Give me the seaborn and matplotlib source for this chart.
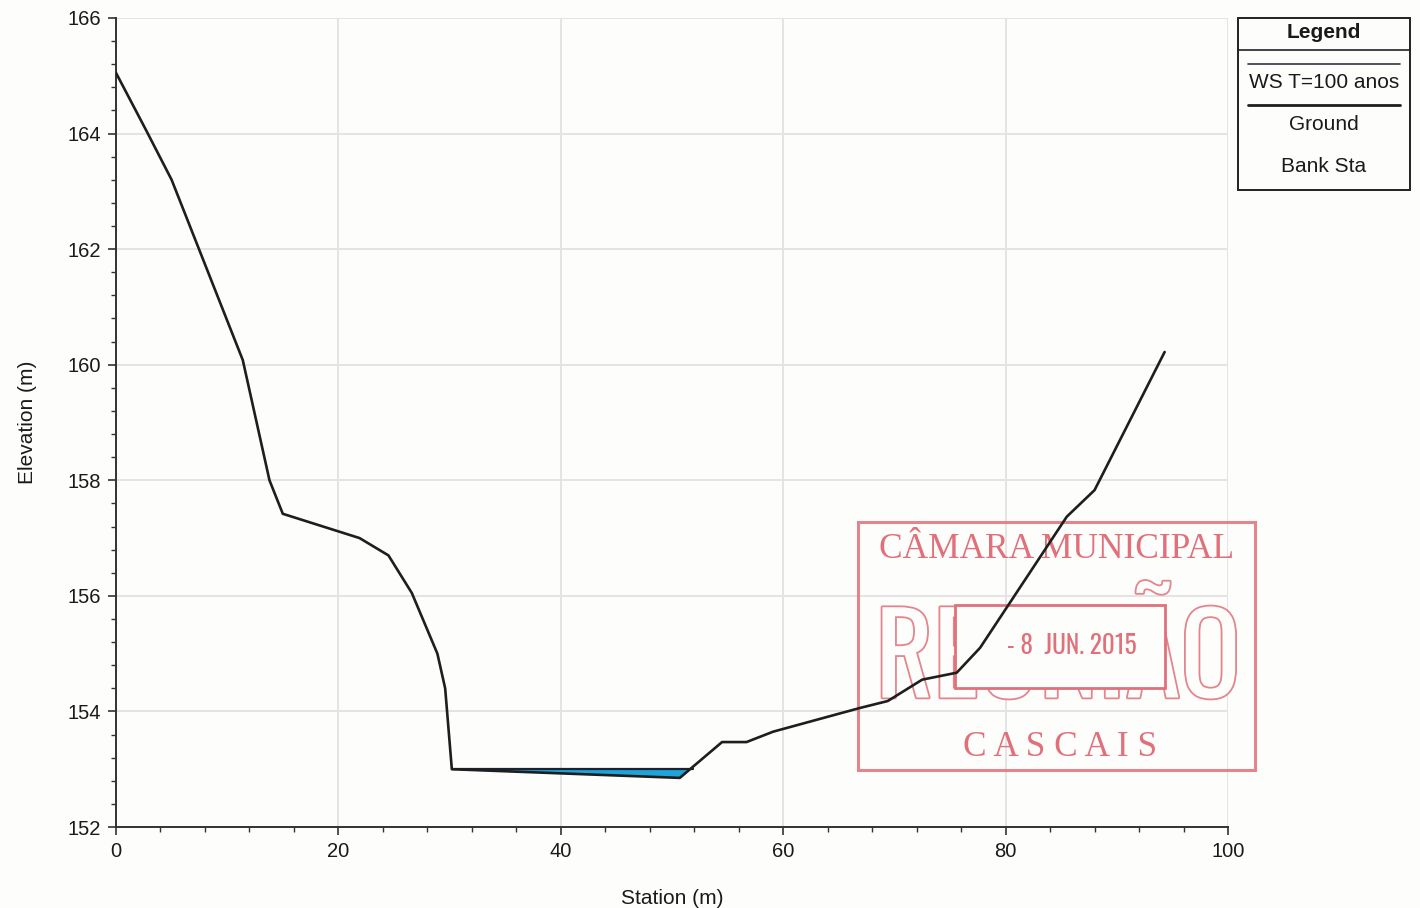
import numpy as np
import pandas as pd
import matplotlib.pyplot as plt
import matplotlib.patches as mpatches
import matplotlib.patheffects as pe
from matplotlib.lines import Line2D
from matplotlib.ticker import MultipleLocator
import seaborn as sns

# cross section data
ground_sta = [0.0, 2.7, 5.0, 11.4, 13.8, 15.0, 21.9, 24.5, 26.6, 28.9, 29.6, 30.2,
              50.7, 54.5, 56.7, 59.1, 66.9, 69.4, 72.5, 75.6, 77.7, 85.5, 88.0, 94.3]
ground_elev = [165.05, 164.06, 163.2, 160.08, 158.0, 157.42, 157.0, 156.7, 156.05, 155.0, 154.4, 153.0,
               152.85, 153.47, 153.47, 153.65, 154.06, 154.18, 154.55, 154.67, 155.1, 157.37, 157.83, 160.22]
ws_sta = [30.2, 51.9]
ws_elev = [153.0, 153.0]
legend_labels = ["WS T=100 anos", "Ground", "Bank Sta"]
x_ticks = [0, 20, 40, 60, 80, 100]
y_ticks = [152, 154, 156, 158, 160, 162, 164, 166]

sns.set_style("white")
plt.rcParams['font.family'] = ['Liberation Sans', 'DejaVu Sans']
narrow = ['Oswald', 'Roboto Condensed', 'Archivo Narrow', 'PT Sans Narrow', 'Liberation Sans']
bg = '#fdfdfb'

fig = plt.figure(figsize=(14.2, 9.08), dpi=100)
fig.patch.set_facecolor(bg)
ax = fig.add_axes([0.0817, 0.0892, 0.7831, 0.891])
ax.set_facecolor(bg)

df_ground = pd.DataFrame({"Station": ground_sta, "Elevation": ground_elev})
df_ws = pd.DataFrame({"Station": ws_sta, "Elevation": ws_elev})

# water between WS and ground
fx = [ws_sta[0]] + [s for s in ground_sta if ws_sta[0] < s < ws_sta[1]] + [ws_sta[1]]
fg = np.interp(fx, ground_sta, ground_elev)
ax.fill_between(fx, fg, ws_elev[0], color='#1ea4d8', zorder=2, lw=0)
sns.lineplot(data=df_ws, x="Station", y="Elevation", ax=ax, color='#1b2233', lw=1.6, zorder=3)
sns.lineplot(data=df_ground, x="Station", y="Elevation", ax=ax, color='#1e1e1e', lw=1.9, zorder=4,
             sort=False)

ax.set_xlim(0, 100)
ax.set_ylim(152, 166)
ax.set_xticks(x_ticks)
ax.set_yticks(y_ticks)
ax.xaxis.set_minor_locator(MultipleLocator(4))
ax.yaxis.set_minor_locator(MultipleLocator(0.4))
ax.grid(True, which='major', color='#e4e4e4', lw=1.4)
ax.tick_params(which='major', direction='out', length=6, width=1.2, labelsize=14.5, color='#333333',
               bottom=True, left=True, labelcolor='#1a1a1a', pad=5)
ax.tick_params(which='minor', direction='out', length=3.5, width=1.0, color='#333333', bottom=True, left=True)
for s in ['top', 'right']:
    ax.spines[s].set_visible(False)
for s in ['left', 'bottom']:
    ax.spines[s].set_color('#333333')
    ax.spines[s].set_linewidth(1.4)
ax.set_xlabel("Station (m)", fontsize=15, color='#1a1a1a', labelpad=20)
ax.set_ylabel("Elevation (m)", fontsize=15, color='#1a1a1a', labelpad=22)

# legend box drawn like the HEC-RAS panel
W, H = 1420.0, 908.0
def px(x):
    return x / W
def py(y):
    return 1 - y / H
fig.patches.append(mpatches.Rectangle((px(1238), py(190)), px(1410) - px(1238), py(18) - py(190),
                                      transform=fig.transFigure, fill=False, ec='#222222', lw=1.4))
fig.lines.append(Line2D([px(1238), px(1410)], [py(50), py(50)], transform=fig.transFigure,
                        color='#222222', lw=1.2))
fig.text(px(1324), py(33), "Legend", ha='center', va='center', fontsize=15, fontweight='bold', color='#1a1a1a')
fig.lines.append(Line2D([px(1248), px(1400)], [py(64), py(64)], transform=fig.transFigure,
                        color='#333344', lw=1.2))
fig.lines.append(Line2D([px(1248), px(1400)], [py(105), py(105)], transform=fig.transFigure,
                        color='#1e1e1e', lw=2.0))
for lbl, yy in zip(legend_labels, [82, 124, 166]):
    fig.text(px(1324), py(yy), lbl, ha='center', va='center', fontsize=15, color='#1a1a1a')

# red municipal stamp
red = '#e0707a'
ax.add_patch(mpatches.Rectangle((px(858), py(770)), px(1255) - px(858), py(522) - py(770),
                                transform=fig.transFigure, fill=False, ec=red, lw=2.2, clip_on=False,
                                zorder=1.5, alpha=0.85))
fig.canvas.draw()
renderer = fig.canvas.get_renderer()

def fit(t, width):
    w = t.get_window_extent(renderer).width
    t.set_fontsize(t.get_fontsize() * width / w)

big = ax.text(px(1058), py(660), "REUNIÃO", transform=fig.transFigure, ha='center', va='center',
              fontsize=100, family=narrow, color=bg, zorder=1.5, clip_on=False,
              path_effects=[pe.Stroke(linewidth=2.6, foreground=red, alpha=0.85), pe.Normal()])
fit(big, 365)
ax.add_patch(mpatches.Rectangle((px(955), py(688)), px(1165) - px(955), py(605) - py(688),
                                transform=fig.transFigure, fc=bg, ec=red, lw=2.0, clip_on=False,
                                zorder=1.6))
t1 = ax.text(px(1057), py(549), "CÂMARA MUNICIPAL", transform=fig.transFigure, ha='center', va='center',
             fontsize=20, family='Liberation Serif', color=red, zorder=1.7, clip_on=False)
fit(t1, 355)
t2 = ax.text(px(1072), py(646), "- 8  JUN. 2015", transform=fig.transFigure, ha='center', va='center',
             fontsize=20, family=narrow, color=red, zorder=1.7, clip_on=False)
fit(t2, 130)
t3 = ax.text(px(1060), py(748), "C A S C A I S", transform=fig.transFigure, ha='center', va='center',
             fontsize=22, family='Liberation Serif', color=red, zorder=1.7, clip_on=False)
fit(t3, 194)

fig.savefig("out.png", dpi=100, facecolor=fig.get_facecolor())
